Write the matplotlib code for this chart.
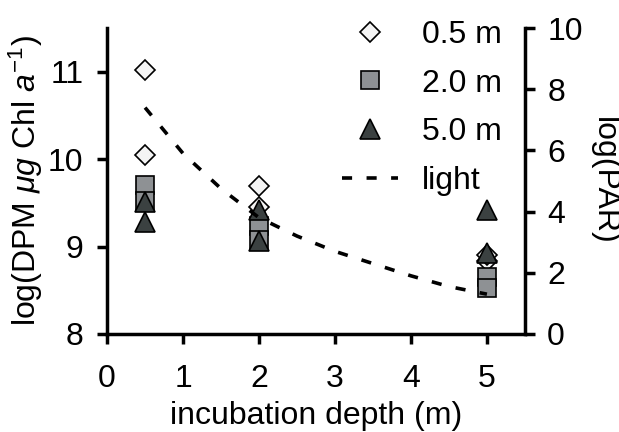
import numpy as np
import matplotlib
matplotlib.use('Agg')
import matplotlib.pyplot as plt

plt.rcParams['font.family'] = ['Liberation Sans', 'DejaVu Sans']
plt.rcParams['mathtext.fontset'] = 'custom'
plt.rcParams['mathtext.rm'] = 'Liberation Sans'
plt.rcParams['mathtext.it'] = 'Liberation Sans:italic'
plt.rcParams['font.size'] = 23

# data
x_05 = [0.5, 0.5, 2, 2, 5, 5]
y_05 = [11.02, 10.05, 9.69, 9.45, 8.83, 8.9]

x_20 = [0.5, 0.5, 2, 2, 5, 5]
y_20 = [9.70, 9.52, 9.23, 9.07, 8.65, 8.53]

x_50 = [0.5, 0.5, 2, 2, 5, 5]
y_50 = [9.51, 9.28, 9.42, 9.06, 9.42, 8.93]

light_x = [0.5, 1, 1.5, 2, 2.5, 3, 3.5, 4, 4.5, 5]
light_y = [7.4, 5.9, 4.75, 3.8, 3.2, 2.7, 2.3, 1.9, 1.55, 1.3]

fig = plt.figure(figsize=(6.19, 4.32), dpi=100)
ax = fig.add_axes([0.173, 0.227, 0.675, 0.708])
ax2 = ax.twinx()

mk = dict(linestyle='none', markeredgecolor='black', markeredgewidth=1.2)
h1, = ax.plot(x_05, y_05, marker='D', markersize=10.5, markerfacecolor='#f4f4f4', label='0.5 m', zorder=3, **mk)
h2, = ax.plot(x_20, y_20, marker='s', markersize=12.5, markerfacecolor='#8e9194', label='2.0 m', zorder=4, **mk)
h3, = ax.plot(x_50, y_50, marker='^', markersize=14, markerfacecolor='#3b4141', label='5.0 m', zorder=5, **mk)
h4, = ax2.plot(light_x, light_y, color='black', linestyle=(0, (2.8, 4)), linewidth=2.6, label='light')

ax.set_xlim(0, 5.5)
ax.set_ylim(8, 11.5)
ax2.set_ylim(0, 10)
ax.set_xticks([0, 1, 2, 3, 4, 5])
ax.set_yticks([8, 9, 10, 11])
ax2.set_yticks([0, 2, 4, 6, 8, 10])

for a in (ax, ax2):
    a.spines['top'].set_visible(False)
    for s in a.spines.values():
        s.set_linewidth(2.5)
    a.tick_params(width=2.5, length=7, labelsize=23)
ax.spines['right'].set_visible(False)
ax2.spines['left'].set_visible(False)
ax2.spines['bottom'].set_visible(False)
ax.tick_params(axis='x', pad=15)
ax.tick_params(axis='y', pad=10)
ax2.tick_params(axis='y', pad=9)

ax.set_xlabel('incubation depth (m)', fontsize=23, labelpad=4.5)
ax.set_ylabel(r'log(DPM $\mathit{\mu g}$ Chl $\mathit{a}^{\mathrm{-1}}$)', fontsize=23, labelpad=2)
ax2.set_ylabel('log(PAR)', fontsize=23, rotation=270, labelpad=26)

ax2.legend(handles=[h1, h2, h3, h4], loc='upper right', bbox_to_anchor=(1.014, 1.12),
           frameon=False, fontsize=23, handlelength=1.75, handletextpad=0.75,
           labelspacing=0.58)

fig.savefig('out.png', dpi=100, facecolor='white')
